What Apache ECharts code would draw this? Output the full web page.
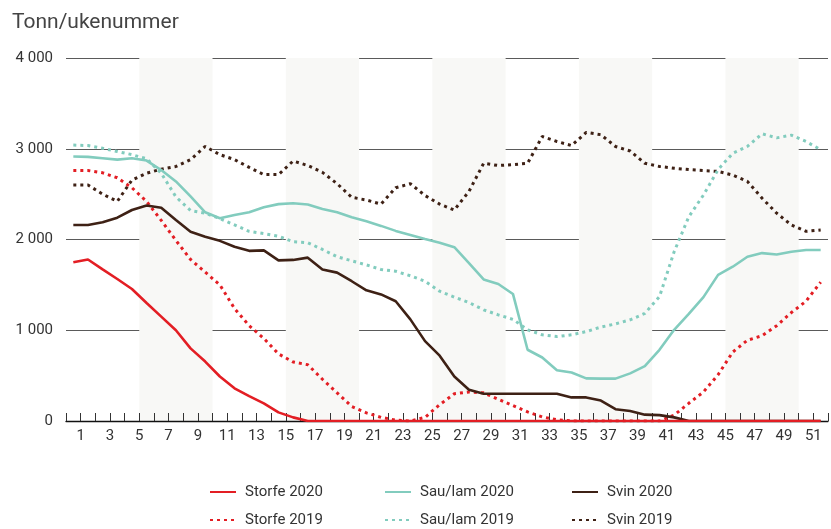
<!DOCTYPE html>
<html>
<head>
<meta charset="utf-8">
<title>Tonn/ukenummer</title>
<script src="https://cdn.jsdelivr.net/npm/echarts@6.0.0/dist/echarts.min.js"></script>
<style>
    html, body { margin: 0; padding: 0; background: #fff; }
    #main { width: 831px; height: 529px; }
</style>
</head>
<body>
<div id="main"></div>
<script>
// ukenummer
var weeks = ['1', '2', '3', '4', '5', '6', '7', '8', '9', '10', '11', '12', '13', '14', '15', '16', '17', '18', '19', '20',
    '21', '22', '23', '24', '25', '26', '27', '28', '29', '30', '31', '32', '33', '34', '35', '36', '37', '38', '39', '40',
    '41', '42', '43', '44', '45', '46', '47', '48', '49', '50', '51', '52'];

// tonn per uke
var storfe2020 = [1750, 1780, 1670, 1565, 1455, 1300, 1150, 1000, 800, 655, 490, 360, 275, 195, 95, 40, 0, 0, 0, 0,
    0, 0, 0, 0, 0, 0, 0, 0, 0, 0, 0, 0, 0, 0, 0, 0, 0, 0, 0, 0,
    0, 0, 0, 0, 0, 0, 0, 0, 0, 0, 0, 0];
var storfe2019 = [2760, 2760, 2735, 2680, 2570, 2420, 2210, 1990, 1780, 1640, 1500, 1240, 1050, 910, 740, 650, 620, 460, 310, 160,
    90, 40, 10, 0, 40, 180, 300, 320, 310, 240, 170, 100, 45, 15, 0, 0, 0, 0, 0, 0,
    0, 65, 195, 320, 510, 760, 890, 940, 1050, 1195, 1320, 1530];
var sau2020 = [2915, 2910, 2895, 2880, 2895, 2870, 2765, 2640, 2475, 2300, 2235, 2270, 2300, 2355, 2390, 2400, 2385, 2335, 2300, 2245,
    2200, 2150, 2095, 2050, 2005, 1965, 1915, 1740, 1560, 1510, 1400, 785, 700, 560, 535, 470, 467, 467, 525, 605,
    785, 1005, 1180, 1365, 1610, 1700, 1810, 1850, 1835, 1865, 1885, 1885];
var sau2019 = [3040, 3035, 3005, 2970, 2935, 2890, 2730, 2470, 2320, 2290, 2230, 2160, 2090, 2065, 2035, 1975, 1965, 1890, 1810, 1765,
    1720, 1670, 1650, 1600, 1540, 1430, 1365, 1305, 1225, 1170, 1120, 1005, 950, 930, 950, 985, 1035, 1070, 1115, 1185,
    1370, 1865, 2250, 2490, 2770, 2950, 3025, 3165, 3120, 3150, 3080, 2990];
var svin2020 = [2160, 2160, 2190, 2240, 2325, 2375, 2350, 2215, 2085, 2030, 1985, 1920, 1875, 1880, 1770, 1775, 1800, 1670, 1635, 1540,
    1440, 1395, 1320, 1120, 880, 720, 490, 345, 300, 300, 300, 300, 300, 300, 260, 260, 225, 130, 110, 70,
    65, 40, 0, 0, 0, 0, 0, 0, 0, 0, 0, 0];
var svin2019 = [2600, 2600, 2500, 2420, 2655, 2730, 2775, 2805, 2880, 3025, 2935, 2880, 2795, 2715, 2715, 2865, 2815, 2740, 2615, 2465,
    2435, 2390, 2570, 2615, 2485, 2390, 2325, 2530, 2840, 2815, 2825, 2840, 3135, 3080, 3035, 3180, 3155, 3025, 2975, 2840,
    2805, 2785, 2770, 2760, 2750, 2710, 2640, 2455, 2290, 2160, 2090, 2105];

var RED = '#e31e24';
var TEAL = '#82ccbe';
var BROWN = '#3e2115';
var FONT = 'Roboto';

/**
 * lag en linjeserie
 */
function makeLine(name, data, color, dotted) {
    return {
        name: name,
        type: 'line',
        data: data,
        xAxisIndex: 0,
        symbol: 'none',
        silent: true,
        lineStyle: {
            color: color,
            width: dotted ? 3 : 2.6,
            type: dotted ? [3, 4] : 'solid',
            cap: 'butt'
        },
        itemStyle: { color: color }
    };
}

function makeLegend(left, names) {
    return {
        orient: 'vertical',
        left: left,
        top: 483,
        height: 60,
        padding: 0,
        itemWidth: 26,
        itemHeight: 14,
        itemGap: 10,
        selectedMode: false,
        itemStyle: { opacity: 0 },
        textStyle: {
            fontFamily: FONT,
            fontSize: 15,
            lineHeight: 18,
            color: '#333',
            padding: [0, 0, 0, 4]
        },
        data: names
    };
}

var option = {
    animation: false,
    title: {
        text: 'Tonn/ukenummer',
        left: 12,
        top: 12,
        padding: 0,
        textStyle: {
            fontFamily: FONT,
            fontSize: 21,
            fontWeight: 'normal',
            color: '#444'
        }
    },
    legend: [
        makeLegend(209, ['Storfe 2020', 'Storfe 2019']),
        makeLegend(384, ['Sau/lam 2020', 'Sau/lam 2019']),
        makeLegend(571, ['Svin 2020', 'Svin 2019'])
    ],
    grid: {
        left: 66,
        right: -5,
        top: 58,
        bottom: 108
    },
    xAxis: [
        {
            // kategorier, bare for de grå feltene
            type: 'category',
            data: weeks,
            boundaryGap: true,
            position: 'bottom',
            axisLine: { show: false },
            axisTick: { show: false },
            axisLabel: { show: false },
            splitLine: { show: false },
            splitArea: {
                show: true,
                interval: 4,
                areaStyle: {
                    color: ['rgba(255,255,255,0)', '#f8f8f6']
                }
            }
        },
        {
            // synlig akse med streker og tall
            type: 'value',
            min: 0,
            max: 52,
            interval: 1,
            position: 'bottom',
            axisLine: {
                show: true,
                onZero: false,
                lineStyle: { color: '#111', width: 1.3 }
            },
            axisTick: {
                show: true,
                inside: true,
                length: 8,
                lineStyle: { color: '#333', width: 1 }
            },
            axisLabel: {
                margin: 8,
                fontFamily: FONT,
                fontSize: 15,
                color: '#333',
                showMinLabel: true,
                showMaxLabel: true,
                formatter: function (v) {
                    return (v % 2 === 1) ? String(v) : '';
                }
            },
            splitLine: { show: false }
        }
    ],
    yAxis: {
        type: 'value',
        min: 0,
        max: 4000,
        interval: 1000,
        axisLine: { show: false },
        axisTick: { show: false },
        axisLabel: {
            margin: 13,
            fontFamily: FONT,
            fontSize: 15,
            color: '#333',
            padding: [0, 0, 6, 0],
            formatter: function (v) {
                return String(v).replace(/\B(?=(\d{3})+(?!\d))/g, ' ');
            }
        },
        splitLine: {
            show: true,
            lineStyle: { color: '#5a5a5a', width: 1.2 }
        }
    },
    series: [
        makeLine('Svin 2019', svin2019, BROWN, true),
        makeLine('Sau/lam 2019', sau2019, TEAL, true),
        makeLine('Storfe 2019', storfe2019, RED, true),
        makeLine('Svin 2020', svin2020, BROWN, false),
        makeLine('Sau/lam 2020', sau2020, TEAL, false),
        makeLine('Storfe 2020', storfe2020, RED, false)
    ]
};

var chart = echarts.init(document.getElementById('main'));
chart.setOption(option);
</script>
</body>
</html>
